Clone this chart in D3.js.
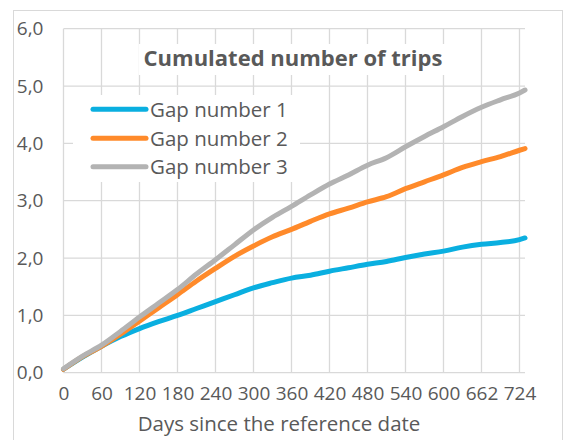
<!DOCTYPE html>
<html>
<head>
<meta charset="utf-8">
<script src="https://cdn.jsdelivr.net/npm/d3@7"></script>
<style>
  html, body { margin: 0; padding: 0; background: #fff; }
  svg { display: block; }
  text { font-family: "Open Sans", "Noto Sans", sans-serif; fill: #595959; }
</style>
</head>
<body>
<svg id="chart" width="564" height="440"></svg>
<script>
// ---- data ----
const tickDays = [0, 60, 120, 180, 240, 300, 360, 420, 480, 540, 600, 662, 724];
const yTicks = [0, 1, 2, 3, 4, 5, 6];
const days = [0, 30, 60, 90, 120, 150, 180, 210, 240, 270, 300, 330, 360, 390, 420, 450, 480, 510, 540, 570, 600, 631, 662, 693, 724, 733];
const gap1 = [0.06, 0.27, 0.46, 0.63, 0.77, 0.89, 1.00, 1.12, 1.24, 1.36, 1.48, 1.57, 1.65, 1.70, 1.77, 1.83, 1.89, 1.94, 2.01, 2.07, 2.12, 2.19, 2.24, 2.27, 2.32, 2.35];
const gap2 = [0.06, 0.28, 0.46, 0.67, 0.90, 1.13, 1.36, 1.60, 1.82, 2.03, 2.21, 2.37, 2.50, 2.64, 2.77, 2.87, 2.98, 3.07, 3.21, 3.33, 3.45, 3.58, 3.68, 3.77, 3.88, 3.91];
const gap3 = [0.07, 0.29, 0.48, 0.72, 0.97, 1.21, 1.45, 1.72, 1.97, 2.23, 2.49, 2.71, 2.90, 3.10, 3.29, 3.45, 3.62, 3.75, 3.94, 4.12, 4.29, 4.47, 4.63, 4.76, 4.88, 4.93];
const seriesNames = ["Gap number 1", "Gap number 2", "Gap number 3"];
const seriesColors = ["#0AAFE0", "#FF8A2A", "#B3B3B3"];
const title = "Cumulated number of trips";
const xTitle = "Days since the reference date";

// ---- layout ----
const svg = d3.select("#chart");
const plot = { left: 63.5, right: 525, top: 28.7, bottom: 372.7 };
const step = 38;
const x = d3.scaleLinear()
  .domain(tickDays)
  .range(tickDays.map((d, i) => plot.left + i * step));
const y = d3.scaleLinear().domain([0, 6]).range([plot.bottom, plot.top]);
const fmt = d3.formatLocale({ decimal: ",", thousands: ".", grouping: [3], currency: ["", ""] }).format(".1f");

// chart border
svg.append("rect").attr("x", 13.5).attr("y", 10.5).attr("width", 549).attr("height", 440)
  .attr("fill", "#fff").attr("stroke", "#d9d9d9").attr("stroke-width", 1);

// gridlines
const grid = svg.append("g").attr("stroke", "#d9d9d9").attr("stroke-width", 1.3);
grid.selectAll("line.h").data(yTicks).join("line").attr("class", "h")
  .attr("x1", plot.left).attr("x2", plot.right)
  .attr("y1", d => y(d)).attr("y2", d => y(d));
grid.selectAll("line.v").data(tickDays).join("line").attr("class", "v")
  .attr("x1", d => x(d)).attr("x2", d => x(d))
  .attr("y1", plot.top).attr("y2", plot.bottom);

// axes (labels only)
const yAxis = svg.append("g").attr("transform", `translate(${plot.left},0)`)
  .call(d3.axisLeft(y).tickValues(yTicks).tickFormat(fmt).tickSize(0).tickPadding(20));
const xAxis = svg.append("g").attr("transform", `translate(0,${plot.bottom})`)
  .call(d3.axisBottom(x).tickValues(tickDays).tickFormat(d3.format("d")).tickSize(0).tickPadding(14));
[yAxis, xAxis].forEach(a => {
  a.select(".domain").remove();
  a.selectAll("text").style("font-family", '"Open Sans", sans-serif').style("font-size", "19px").attr("fill", "#595959");
});

// lines
const allSeries = [gap1, gap2, gap3];
const line = d3.line().x((d, i) => x(days[i])).y(d => y(d)).curve(d3.curveMonotoneX);
svg.append("g").selectAll("path").data(allSeries).join("path")
  .attr("d", d => line(d))
  .attr("fill", "none")
  .attr("stroke", (d, i) => seriesColors[i])
  .attr("stroke-width", 5)
  .attr("stroke-linecap", "round")
  .attr("stroke-linejoin", "round");

// title with white box
svg.append("rect").attr("x", 139).attr("y", 44).attr("width", 308).attr("height", 31).attr("fill", "#fff");
svg.append("text").attr("x", 293).attr("y", 66).attr("text-anchor", "middle")
  .style("font-size", "22px").style("font-weight", "bold").text(title);

// legend with white box
const lg = svg.append("g");
lg.append("rect").attr("x", 73).attr("y", 95).attr("width", 227).attr("height", 87).attr("fill", "#fff");
const legY = [109.3, 138.3, 166.7];
seriesNames.forEach((n, i) => {
  lg.append("line").attr("x1", 93).attr("x2", 146).attr("y1", legY[i]).attr("y2", legY[i])
    .attr("stroke", seriesColors[i]).attr("stroke-width", 5).attr("stroke-linecap", "round");
  lg.append("text").attr("x", 150).attr("y", legY[i] + 7.5).style("font-size", "20.5px").text(n);
});

// x title
svg.append("text").attr("x", 279).attr("y", 431).attr("text-anchor", "middle")
  .style("font-size", "20.5px").text(xTitle);
</script>
</body>
</html>
